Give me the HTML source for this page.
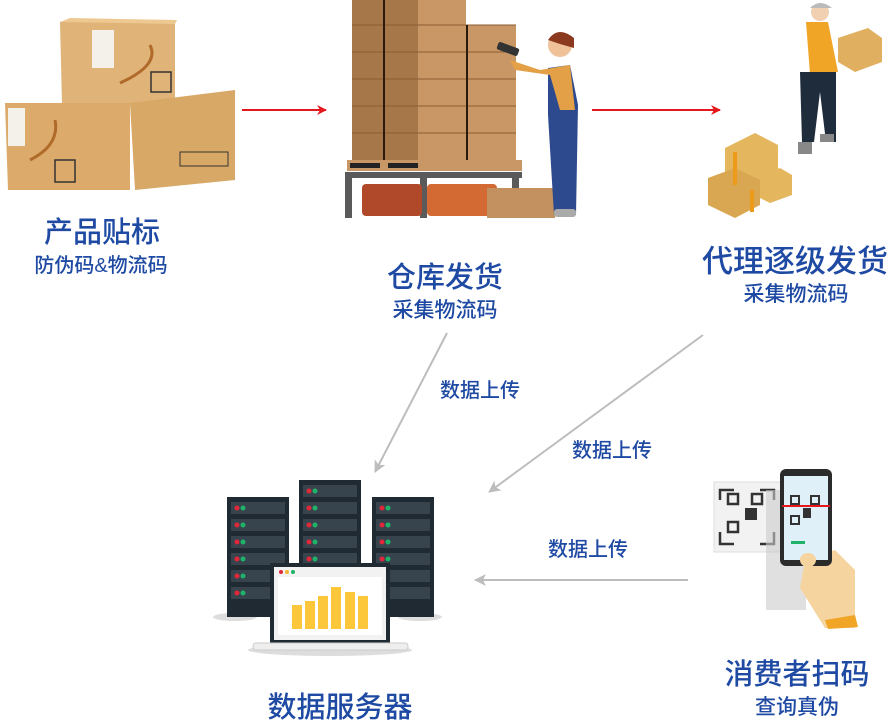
<!DOCTYPE html>
<html><head><meta charset="utf-8"><style>
html,body{margin:0;padding:0;background:#fff;}
svg{display:block}
text{font-family:"Liberation Sans","Noto Sans CJK SC",sans-serif;fill:#1f4aa3;font-weight:500;}
</style></head><body>
<svg width="891" height="723" viewBox="0 0 891 723" xmlns="http://www.w3.org/2000/svg">
<defs>
<marker id="ra" markerWidth="10" markerHeight="10" refX="9" refY="5" orient="auto" markerUnits="userSpaceOnUse"><path d="M0,0 L10,5 L0,10 L3,5 Z" fill="#e5161c"/></marker>
<marker id="ga" markerWidth="12" markerHeight="12" refX="11" refY="6" orient="auto" markerUnits="userSpaceOnUse"><path d="M0,0 L12,6 L0,12 L3,6 Z" fill="#bdbdbd"/></marker>
</defs>

<!-- top-left boxes -->
<polygon points="60,22 175,22 175,105 62,105" fill="#e0b378"/>
<polygon points="60,22 70,18 177,20 175,24" fill="#edc891"/>
<rect x="92" y="30" width="22" height="38" fill="#f4f1ea"/>
<polygon points="5,103 130,103 130,190 8,190" fill="#dcab6c"/>
<polygon points="130,103 235,90 235,180 135,190" fill="#d8a866"/>
<rect x="8" y="108" width="17" height="38" fill="#f4f1ea"/>
<path d="M150,45 q10,20 -30,38" stroke="#b06a2a" stroke-width="3" fill="none"/>
<path d="M55,120 q5,25 -25,40" stroke="#b06a2a" stroke-width="3" fill="none"/>
<rect x="151" y="72" width="20" height="20" fill="none" stroke="#333" stroke-width="1.5"/>
<rect x="55" y="160" width="20" height="22" fill="none" stroke="#333" stroke-width="1.5"/>
<rect x="180" y="152" width="48" height="14" fill="none" stroke="#333" stroke-width="1"/>

<line x1="242" y1="110" x2="326" y2="110" stroke="#e5161c" stroke-width="2" marker-end="url(#ra)"/>

<!-- warehouse -->
<rect x="352" y="0" width="66" height="160" fill="#a67748"/>
<rect x="418" y="0" width="48" height="160" fill="#c99766"/>
<rect x="468" y="25" width="48" height="135" fill="#c99766"/>
<g stroke="#8a5e34" stroke-width="1">
<line x1="352" y1="25" x2="516" y2="25"/><line x1="352" y1="52" x2="516" y2="52"/><line x1="352" y1="79" x2="516" y2="79"/><line x1="352" y1="106" x2="516" y2="106"/><line x1="352" y1="133" x2="516" y2="133"/>
</g>
<line x1="384" y1="0" x2="384" y2="160" stroke="#2a1a0e" stroke-width="2"/>
<line x1="467" y1="25" x2="467" y2="160" stroke="#2a1a0e" stroke-width="2"/>
<rect x="347" y="160" width="175" height="11" fill="#c99766"/>
<rect x="350" y="163" width="30" height="5" fill="#222"/><rect x="388" y="163" width="30" height="5" fill="#222"/>
<rect x="345" y="172" width="177" height="6" fill="#5a5a5a"/>
<rect x="345" y="172" width="7" height="46" fill="#5a5a5a"/>
<rect x="420" y="172" width="7" height="46" fill="#5a5a5a"/>
<rect x="512" y="172" width="7" height="46" fill="#5a5a5a"/>
<rect x="362" y="184" width="60" height="32" rx="4" fill="#b0492a"/>
<rect x="427" y="184" width="70" height="32" rx="4" fill="#d46a33"/>
<rect x="487" y="188" width="68" height="30" fill="#c2915f"/>
<!-- worker -->
<path d="M548,68 l22,-3 l8,40 l-2,110 l-22,0 l-6,-100 z" fill="#2d4a8e"/>
<path d="M510,60 l30,10 l30,-5 l5,45 l-15,0 l-10,-35 l-35,-5 z" fill="#e3a046"/>
<circle cx="560" cy="45" r="12" fill="#f0c29a"/>
<path d="M548,40 q10,-15 26,-2 l0,10 l-14,-4 z" fill="#8b3a1f"/>
<rect x="497" y="45" width="22" height="8" rx="2" fill="#333" transform="rotate(20 508 49)"/>
<rect x="554" y="209" width="22" height="8" rx="3" fill="#aaa"/>

<line x1="592" y1="110" x2="720" y2="110" stroke="#e5161c" stroke-width="2" marker-end="url(#ra)"/>

<!-- right worker -->
<path d="M806,22 l22,0 l10,50 l-28,2 z" fill="#f0a526"/>
<path d="M800,72 l36,0 l0,70 l-10,0 l-6,-50 l-6,50 l-12,0 z" fill="#1f2c3b"/>
<circle cx="820" cy="12" r="9" fill="#f0d0b0"/>
<path d="M810,8 q10,-10 22,0 z" fill="#bbb"/>
<polygon points="838,38 868,28 882,38 882,62 855,72 838,62" fill="#e0b060"/>
<rect x="798" y="142" width="14" height="12" fill="#888"/><rect x="820" y="134" width="14" height="8" fill="#888"/>
<!-- right boxes -->
<polygon points="725,148 755,133 778,145 778,178 747,190 725,178" fill="#e4b65e"/>
<polygon points="708,178 735,168 760,180 760,205 735,218 708,205" fill="#d9a751"/>
<polygon points="760,175 780,168 792,175 792,195 770,203 760,198" fill="#e4b65e"/>
<line x1="735" y1="152" x2="735" y2="185" stroke="#ee9a1a" stroke-width="4"/>
<line x1="752" y1="190" x2="752" y2="212" stroke="#ee9a1a" stroke-width="4"/>

<!-- labels -->
<text x="102" y="242" font-size="29" text-anchor="middle">产品贴标</text>
<text x="101" y="272" font-size="20" text-anchor="middle">防伪码&amp;物流码</text>
<text x="445" y="287" font-size="29" text-anchor="middle">仓库发货</text>
<text x="445" y="317" font-size="21" text-anchor="middle">采集物流码</text>
<text x="795" y="272" font-size="31" text-anchor="middle">代理逐级发货</text>
<text x="796" y="301" font-size="21" text-anchor="middle">采集物流码</text>

<!-- gray arrows -->
<line x1="447" y1="333" x2="375" y2="472" stroke="#bdbdbd" stroke-width="2" marker-end="url(#ga)"/>
<line x1="703" y1="335" x2="489" y2="492" stroke="#bdbdbd" stroke-width="2" marker-end="url(#ga)"/>
<line x1="688" y1="580" x2="475" y2="580" stroke="#bdbdbd" stroke-width="2" marker-end="url(#ga)"/>
<text x="480" y="397" font-size="20" text-anchor="middle">数据上传</text>
<text x="612" y="457" font-size="20" text-anchor="middle">数据上传</text>
<text x="588" y="556" font-size="20" text-anchor="middle">数据上传</text>

<!-- servers -->
<ellipse cx="235" cy="617" rx="22" ry="4" fill="#ddd"/>
<ellipse cx="420" cy="617" rx="22" ry="4" fill="#ddd"/>
<ellipse cx="330" cy="650" rx="82" ry="6" fill="#ddd"/>
<g fill="#1f2a33">
<rect x="227" y="497" width="62" height="120"/>
<rect x="299" y="480" width="62" height="90"/>
<rect x="372" y="497" width="62" height="120"/>
</g>
<g fill="#37444e">
<rect x="231" y="502" width="54" height="12"/><rect x="231" y="519" width="54" height="12"/><rect x="231" y="536" width="54" height="12"/><rect x="231" y="553" width="54" height="12"/><rect x="231" y="570" width="54" height="12"/><rect x="231" y="587" width="54" height="12"/>
<rect x="303" y="485" width="54" height="12"/><rect x="303" y="502" width="54" height="12"/><rect x="303" y="519" width="54" height="12"/><rect x="303" y="536" width="54" height="12"/><rect x="303" y="553" width="54" height="12"/>
<rect x="376" y="502" width="54" height="12"/><rect x="376" y="519" width="54" height="12"/><rect x="376" y="536" width="54" height="12"/><rect x="376" y="553" width="54" height="12"/><rect x="376" y="570" width="54" height="12"/><rect x="376" y="587" width="54" height="12"/>
</g>
<g fill="#e0283a">
<circle cx="237" cy="508" r="2.5"/><circle cx="237" cy="525" r="2.5"/><circle cx="237" cy="542" r="2.5"/><circle cx="237" cy="559" r="2.5"/><circle cx="237" cy="576" r="2.5"/><circle cx="237" cy="593" r="2.5"/>
<circle cx="309" cy="491" r="2.5"/><circle cx="309" cy="508" r="2.5"/><circle cx="309" cy="525" r="2.5"/><circle cx="309" cy="542" r="2.5"/><circle cx="309" cy="559" r="2.5"/>
<circle cx="382" cy="508" r="2.5"/><circle cx="382" cy="525" r="2.5"/><circle cx="382" cy="542" r="2.5"/><circle cx="382" cy="559" r="2.5"/>
</g>
<g fill="#1fb36a">
<circle cx="243" cy="508" r="2.5"/><circle cx="243" cy="525" r="2.5"/><circle cx="243" cy="542" r="2.5"/><circle cx="243" cy="559" r="2.5"/><circle cx="243" cy="576" r="2.5"/><circle cx="243" cy="593" r="2.5"/>
<circle cx="315" cy="491" r="2.5"/><circle cx="315" cy="508" r="2.5"/><circle cx="315" cy="525" r="2.5"/><circle cx="315" cy="542" r="2.5"/><circle cx="315" cy="559" r="2.5"/>
<circle cx="388" cy="508" r="2.5"/><circle cx="388" cy="525" r="2.5"/><circle cx="388" cy="542" r="2.5"/><circle cx="388" cy="559" r="2.5"/>
</g>
<rect x="270" y="563" width="120" height="81" fill="#1f2a33"/>
<rect x="274" y="567" width="112" height="73" fill="#f2f2f2"/>
<rect x="278" y="577" width="104" height="58" fill="#fff"/>
<circle cx="281" cy="572" r="2" fill="#e0283a"/><circle cx="287" cy="572" r="2" fill="#f2b632"/><circle cx="293" cy="572" r="2" fill="#1fb36a"/>
<g fill="#fcc73a">
<rect x="292" y="605" width="10" height="24"/><rect x="305" y="601" width="10" height="28"/><rect x="318" y="596" width="10" height="33"/><rect x="331" y="587" width="10" height="42"/><rect x="345" y="592" width="10" height="37"/><rect x="358" y="596" width="10" height="33"/>
</g>
<rect x="253" y="643" width="155" height="7" rx="3" fill="#eee" stroke="#ccc" stroke-width="1"/>
<text x="340" y="717" font-size="29" text-anchor="middle">数据服务器</text>

<!-- QR phone -->
<rect x="714" y="482" width="70" height="70" fill="#f2f2f2" stroke="#ddd"/>
<g fill="none" stroke="#333" stroke-width="2.5">
<path d="M720,500 v-10 h14 M760,490 h14 v10 M720,532 v12 h14 M760,544 h14 v-12"/>
<rect x="728" y="494" width="10" height="10"/><rect x="752" y="494" width="10" height="10"/><rect x="728" y="522" width="10" height="10"/>
</g>
<rect x="745" y="508" width="12" height="12" fill="#333"/>
<rect x="766" y="490" width="40" height="120" fill="#ccc" opacity="0.6"/>
<path d="M805,560 l30,-10 l20,20 l0,58 l-30,0 l-25,-40 z" fill="#f5d4a0"/>
<rect x="780" y="469" width="52" height="97" rx="6" fill="#2b2b2b"/>
<rect x="784" y="476" width="44" height="84" fill="#dff0f8"/>
<g fill="none" stroke="#333" stroke-width="2"><rect x="791" y="496" width="8" height="8"/><rect x="811" y="496" width="8" height="8"/><rect x="791" y="516" width="8" height="8"/></g>
<rect x="803" y="508" width="8" height="10" fill="#333"/>
<line x1="782" y1="506" x2="830" y2="506" stroke="#e5161c" stroke-width="2"/>
<rect x="791" y="541" width="14" height="3" fill="#1fb36a"/>
<ellipse cx="808" cy="560" rx="8" ry="7" fill="#f5d4a0"/>
<path d="M825,620 l30,-5 l3,12 l-30,2 z" fill="#f0a526"/>
<text x="797" y="684" font-size="29" text-anchor="middle">消费者扫码</text>
<text x="797" y="714" font-size="21" text-anchor="middle">查询真伪</text>
</svg>
</body></html>
